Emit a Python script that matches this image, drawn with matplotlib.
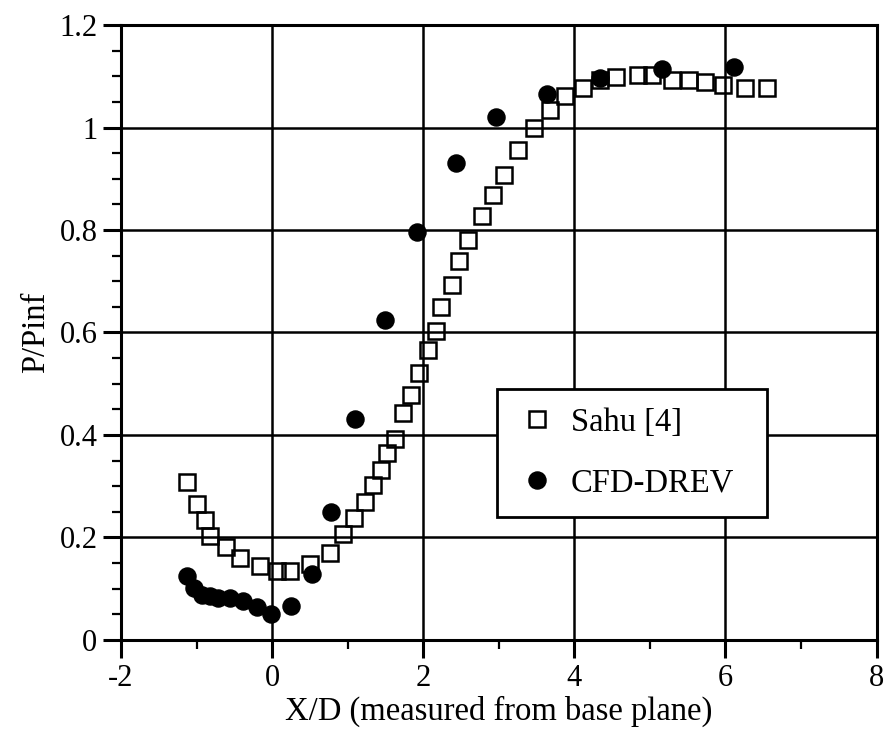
import numpy as np
import matplotlib
matplotlib.use('Agg')
import matplotlib.pyplot as plt
from matplotlib.ticker import MultipleLocator

# Sahu [4] (open squares)
sahu_x = [-1.12, -1.00, -0.89, -0.82, -0.61, -0.42, -0.16, 0.06, 0.24, 0.50,
          0.76, 0.94, 1.09, 1.23, 1.34, 1.44, 1.52, 1.63, 1.73, 1.84,
          1.95, 2.06, 2.17, 2.23, 2.38, 2.48, 2.59, 2.78, 2.92, 3.07,
          3.25, 3.46, 3.68, 3.88, 4.12, 4.34, 4.55, 4.84, 5.03, 5.29,
          5.52, 5.73, 5.97, 6.26, 6.55]
sahu_y = [0.308, 0.266, 0.235, 0.202, 0.181, 0.160, 0.145, 0.134, 0.134, 0.149,
          0.170, 0.206, 0.238, 0.270, 0.302, 0.332, 0.364, 0.392, 0.442, 0.478,
          0.521, 0.566, 0.602, 0.649, 0.692, 0.739, 0.781, 0.828, 0.868, 0.908,
          0.957, 0.999, 1.034, 1.062, 1.077, 1.093, 1.098, 1.103, 1.103, 1.092,
          1.093, 1.088, 1.082, 1.077, 1.077]

# CFD-DREV (filled circles)
cfd_x = [-1.12, -1.04, -0.93, -0.82, -0.71, -0.56, -0.38, -0.20, -0.02, 0.25,
         0.53, 0.78, 1.10, 1.49, 1.92, 2.43, 2.97, 3.64, 4.34, 5.16, 6.11]
cfd_y = [0.124, 0.101, 0.088, 0.085, 0.082, 0.082, 0.076, 0.065, 0.051, 0.067,
         0.129, 0.249, 0.432, 0.625, 0.796, 0.931, 1.020, 1.066, 1.097, 1.114, 1.118]

plt.rcParams['font.family'] = ['Liberation Serif', 'DejaVu Serif']
plt.rcParams['axes.unicode_minus'] = False

fig = plt.figure(figsize=(8.87, 7.29), dpi=100)
ax = fig.add_axes([0.1364, 0.1221, 0.8518, 0.8436])

ax.plot(sahu_x, sahu_y, 's', ms=11.3, mfc='none', mec='black', mew=1.8,
        label='Sahu [4]', zorder=3)
ax.plot(cfd_x, cfd_y, 'o', ms=12.3, color='black', label='CFD-DREV', zorder=4)

ax.set_xlim(-2, 8)
ax.set_ylim(0, 1.2)
ax.xaxis.set_major_locator(MultipleLocator(2))
ax.xaxis.set_minor_locator(MultipleLocator(1))
ax.yaxis.set_major_locator(MultipleLocator(0.2))
ax.yaxis.set_minor_locator(MultipleLocator(0.05))
ax.set_yticks([0, 0.2, 0.4, 0.6, 0.8, 1.0, 1.2])
ax.set_yticklabels(['0', '0.2', '0.4', '0.6', '0.8', '1', '1.2'])

ax.grid(True, which='major', color='black', lw=1.8, zorder=1)
ax.set_axisbelow(True)
for s in ax.spines.values():
    s.set_linewidth(2.2)

ax.tick_params(which='major', direction='out', length=13, width=2.2,
               labelsize=22, pad=4)
ax.tick_params(which='minor', direction='out', length=6.5, width=1.6)

ax.set_xlabel('X/D (measured from base plane)', fontsize=23.5, labelpad=2)
ax.set_ylabel('P/Pinf', fontsize=23.5, labelpad=6)

leg = ax.legend(loc='lower left', bbox_to_anchor=(0.4977, 0.2, 0.3573, 0.208),
                mode='expand', fontsize=23.5, frameon=True, fancybox=False,
                framealpha=1, edgecolor='black', borderaxespad=0,
                borderpad=0.57, labelspacing=0.92, handlelength=1.3,
                handletextpad=0.4, numpoints=1)
leg.get_frame().set_linewidth(2.0)
leg.set_zorder(5)

fig.savefig('out.png', dpi=100)
